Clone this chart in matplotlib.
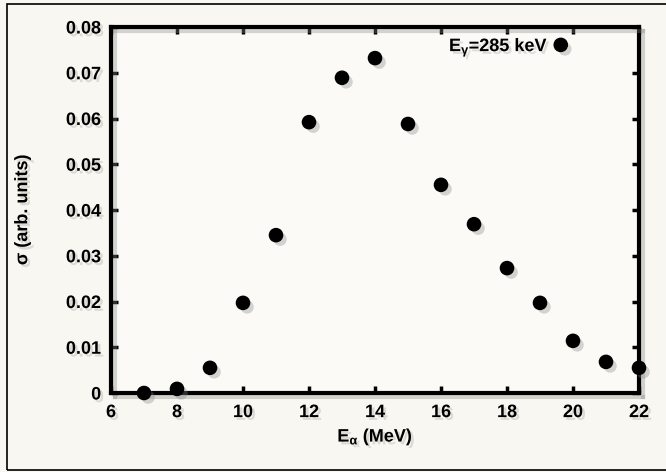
import matplotlib
matplotlib.use("Agg")
import matplotlib.pyplot as plt
import matplotlib.patheffects as pe
from matplotlib.patches import Rectangle

# Data
energy_mev = [7, 8, 9, 10, 11, 12, 13, 14, 15, 16, 17, 18, 19, 20, 21, 22]
sigma = [0.0000, 0.0009, 0.0055, 0.0197, 0.0345, 0.0592, 0.0689, 0.0732,
         0.0588, 0.0455, 0.0369, 0.0273, 0.0197, 0.0114, 0.0068, 0.0055]
x_ticks = [6, 8, 10, 12, 14, 16, 18, 20, 22]
y_ticks = [0, 0.01, 0.02, 0.03, 0.04, 0.05, 0.06, 0.07, 0.08]
y_tick_labels = ["0", "0.01", "0.02", "0.03", "0.04", "0.05", "0.06", "0.07", "0.08"]
legend_label = r"E$_\gamma$=285 keV"

plt.rcParams['font.family'] = ['Liberation Sans', 'DejaVu Sans']
plt.rcParams['mathtext.fontset'] = 'custom'
plt.rcParams['mathtext.rm'] = 'Liberation Sans:bold'
plt.rcParams['mathtext.it'] = 'Liberation Sans:bold'
plt.rcParams['mathtext.bf'] = 'Liberation Sans:bold'

FS = 13
bg = '#f8f7f1'
fig = plt.figure(figsize=(6.66, 4.72), dpi=100, facecolor=bg)
ax = fig.add_axes([111/666, 1 - 393/472, (639-111)/666, (393-27)/472])
ax.set_facecolor('#fbfaf6')

shadow = [pe.SimplePatchShadow(offset=(3, -3), shadow_rgbFace='#888888', alpha=0.35), pe.Normal()]
txt_shadow = [pe.SimplePatchShadow(offset=(2, -2), shadow_rgbFace='#999999', alpha=0.3), pe.Normal()]

ax.plot(energy_mev, sigma, linestyle='none', marker='o', markersize=9.5,
        color='black', label=legend_label, clip_on=False, zorder=5,
        path_effects=shadow)

ax.set_xlim(6, 22)
ax.set_ylim(0, 0.08)
ax.set_xticks(x_ticks)
ax.set_yticks(y_ticks)
ax.set_yticklabels(y_tick_labels)
ax.tick_params(direction='in', length=5, width=2.5, top=True, right=True,
               labelsize=FS, color='black')
ax.tick_params(axis='x', pad=8)
ax.tick_params(axis='y', pad=7)
for lab in ax.get_xticklabels() + ax.get_yticklabels():
    lab.set_fontweight('bold')
    lab.set_path_effects(txt_shadow)
for sp in ax.spines.values():
    sp.set_linewidth(3)
    sp.set_path_effects([pe.SimpleLineShadow(offset=(3, -3), shadow_color='#888888', alpha=0.35), pe.Normal()])

xl = ax.set_xlabel(r"E$_\alpha$ (MeV)", fontsize=FS, fontweight='bold', labelpad=4)
yl = ax.set_ylabel(r"σ (arb. units)", fontsize=FS, fontweight='bold', labelpad=25)
xl.set_path_effects(txt_shadow)
yl.set_path_effects(txt_shadow)

leg = ax.legend(loc='upper right', bbox_to_anchor=(0.886, 1.005), frameon=False,
                markerfirst=False, handlelength=0.8, handletextpad=0.3,
                borderaxespad=0.2, prop={'weight': 'bold', 'size': FS})
for t in leg.get_texts():
    t.set_path_effects(txt_shadow)

# Figure border
fig.patches.append(Rectangle((7/666, 2/472), 1.0, 466/472, transform=fig.transFigure,
                             fill=False, edgecolor='black', linewidth=1.2, clip_on=False))

fig.savefig('out.png', dpi=100, facecolor=bg)
